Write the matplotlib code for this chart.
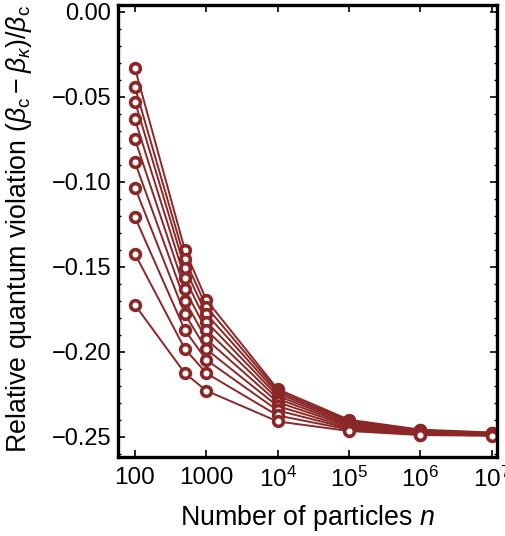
import matplotlib
matplotlib.use("Agg")
import matplotlib.pyplot as plt
import matplotlib.ticker as mticker
import numpy as np

plt.rcParams['font.family'] = ['Liberation Sans', 'DejaVu Sans']
plt.rcParams['mathtext.fontset'] = 'custom'
plt.rcParams['mathtext.rm'] = 'Liberation Sans'
plt.rcParams['mathtext.it'] = 'Liberation Sans:italic'
plt.rcParams['mathtext.bf'] = 'Liberation Sans:bold'

# number of particles
n_values = [100, 500, 1000, 1e4, 1e5, 1e6, 1e7]

# relative quantum violation, one list per curve (top to bottom)
series = [
    [-0.0333, -0.1401, -0.1695, -0.2220, -0.2400, -0.2458, -0.2475],
    [-0.0445, -0.1456, -0.1735, -0.2232, -0.2408, -0.2462, -0.2478],
    [-0.0529, -0.1509, -0.1778, -0.2245, -0.2415, -0.2466, -0.2480],
    [-0.0633, -0.1568, -0.1823, -0.2260, -0.2422, -0.2470, -0.2482],
    [-0.0751, -0.1632, -0.1872, -0.2277, -0.2430, -0.2474, -0.2484],
    [-0.0886, -0.1699, -0.1926, -0.2297, -0.2437, -0.2478, -0.2486],
    [-0.1035, -0.1778, -0.1985, -0.2320, -0.2445, -0.2481, -0.2488],
    [-0.1209, -0.1872, -0.2048, -0.2345, -0.2452, -0.2484, -0.2490],
    [-0.1425, -0.1983, -0.2126, -0.2375, -0.2458, -0.2487, -0.2492],
    [-0.1725, -0.2126, -0.2229, -0.2410, -0.2466, -0.2490, -0.2494],
]

x_ticks = [100, 1000, 1e4, 1e5, 1e6, 1e7]
x_ticklabels = ['100', '1000', r'$10^4$', r'$10^5$', r'$10^6$', r'$10^7$']
y_ticks = [0.0, -0.05, -0.10, -0.15, -0.20, -0.25]
y_ticklabels = ['0.00', '\u22120.05', '\u22120.10', '\u22120.15', '\u22120.20', '\u22120.25']

color = '#8c2727'

fig = plt.figure(figsize=(5.06, 5.36), dpi=100)
ax = fig.add_axes([0.2332, 0.1474, 0.749, 0.8433])

for s in series:
    ax.plot(n_values, s, '-o', color=color, lw=1.4, markersize=7.0,
            markeredgewidth=2.6, markerfacecolor='white', markeredgecolor=color)

ax.set_xscale('log')
ax.set_xlim(57.8, 1.19e7)
ax.set_ylim(-0.2619, 0.0039)

ax.set_xticks(x_ticks)
ax.set_xticklabels(x_ticklabels)
ax.xaxis.set_minor_locator(mticker.NullLocator())
ax.set_yticks(y_ticks)
ax.set_yticklabels(y_ticklabels)
ax.yaxis.set_minor_locator(mticker.MultipleLocator(0.01))

ax.tick_params(which='both', direction='in', top=True, right=True, color='black')
ax.tick_params(axis='y', labelsize=17, pad=5)
ax.tick_params(axis='x', labelsize=17.5, pad=7)
ax.tick_params(which='major', length=5, width=1.2)
ax.tick_params(which='minor', length=2.5, width=1.0)

for side in ['left', 'bottom', 'top', 'right']:
    ax.spines[side].set_linewidth(2.4)
    ax.spines[side].set_color('black')

ax.set_xlabel(r'Number of particles $n$', fontsize=19.3, labelpad=8)
ax.set_ylabel(r'Relative quantum violation $(\beta_{\rm c}-\beta_\kappa)/\beta_{\rm c}$',
              fontsize=19.3)
ax.yaxis.set_label_coords(-0.222, 0.505)

fig.savefig('out.png', dpi=100)
